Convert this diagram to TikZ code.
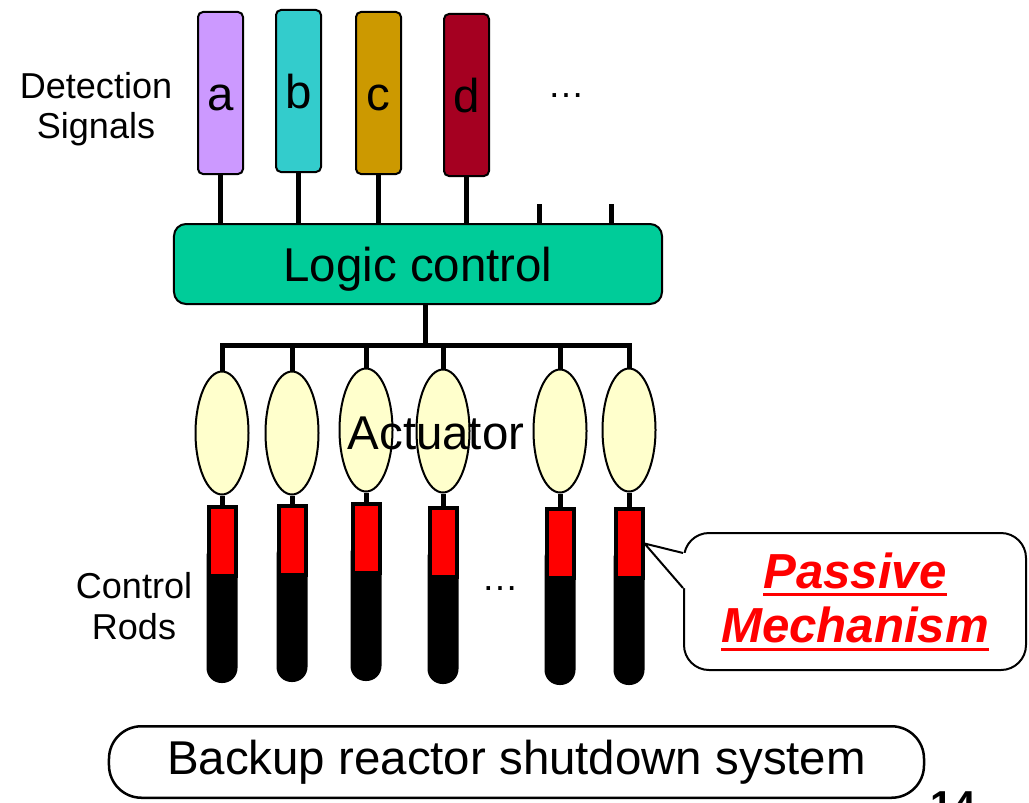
\documentclass[tikz,border=0pt]{standalone}
\usepackage{fontspec}
\setmainfont{Liberation Sans}
\usepackage{tikz}
\usetikzlibrary{positioning, shapes.geometric}
\definecolor{siga}{HTML}{CC99FF}
\definecolor{sigb}{HTML}{33CCCC}
\definecolor{sigc}{HTML}{CC9900}
\definecolor{sigd}{HTML}{A50021}
\definecolor{logicgreen}{HTML}{00CC99}
\definecolor{actcream}{HTML}{FFFFCC}
\newcommand{\redunder}[1]{\leavevmode\setbox0\hbox{#1}%
  \rlap{\vrule height -0.1em depth 0.16em width \wd0}\box0}

\begin{document}
\begin{tikzpicture}[x=0.2mm, y=-0.2mm,
    sigbox/.style={draw, line width=0.4mm, rounded corners=1mm,
                   minimum width=9mm, minimum height=32.4mm, inner sep=0pt,
                   font=\fontsize{27}{30}\selectfont, text height=19.7pt, text depth=0pt},
    wire/.style={line width=1mm},
    actuator/.style={ellipse, draw, line width=0.4mm, fill=actcream,
                     minimum width=10.6mm, minimum height=24.6mm, inner sep=0pt},
    rodhead/.style={draw, line width=0.8mm, fill=red,
                    minimum width=5.4mm, minimum height=13.8mm, inner sep=0pt},
    sidelabel/.style={align=center, font=\fontsize{20.5}{23}\selectfont}]
  \useasboundingbox (0,0) rectangle (1029,802);

  % detection signals
  \node[sigbox, fill=siga] (sigA) at (220.5,93) {a};
  \node[sigbox, fill=sigb] (sigB) at (298.5,91) {b};
  \node[sigbox, fill=sigc] (sigC) at (378.5,93) {c};
  \node[sigbox, fill=sigd] (sigD) at (466.5,95) {d};
  \node[font=\fontsize{21}{24}\selectfont] (sigdots) at (566,96) {\dots};
  \node[sidelabel] (detlabel) at (96,109) {Detection\\Signals};

  % logic control
  \node[draw, line width=0.4mm, fill=logicgreen, rounded corners=2.4mm,
        minimum width=97.6mm, minimum height=16mm, text depth=0pt,
        font=\fontsize{27}{30}\selectfont] (logic) at (418,264) {Logic control};
  \foreach \s in {sigA,sigB,sigC,sigD}
    \draw[wire] (\s.south) -- (\s.south |- logic.north);
  \coordinate (stubE) at (539,204);
  \coordinate (stubF) at (611,204);
  \foreach \s in {stubE,stubF}
    \draw[wire] (\s) -- (\s |- logic.north);

  % actuators and control rods
  \coordinate (bus) at (425,345);
  \draw[wire] (bus |- logic.south) -- (bus);
  \foreach \i/\x/\ey/\ry/\rb in {1/222/433/541.5/683, 2/292/433/540/682,
      3/366/430/538.5/681, 4/443/431/542.5/684, 5/560/431/543/685, 6/629/430/543.5/685} {
    \node[actuator] (act\i) at (\x,\ey) {};
    \draw[wire] (act\i.north) |- (bus);
    \fill[rounded corners=3mm] (\x-15.5,\ry) rectangle (\x+15.5,\rb);
    \node[rodhead] (rb\i) at (\x,\ry) {};
    \draw[wire] (act\i) -- (rb\i);
  }
  \node[font=\fontsize{27}{30}\selectfont] (actlabel) at (436,433) {Actuator};
  \node[font=\fontsize{21}{24}\selectfont] (roddots) at (500,589) {\dots};
  \node[sidelabel] (rodlabel) at (134,606) {Control\\Rods};

  % callout
  \node[draw, line width=0.4mm, fill=white, rounded corners=5mm,
        minimum width=68.4mm, minimum height=27.4mm, align=center, text=red,
        font=\fontsize{28}{31}\selectfont\bfseries\itshape] (note) at (855,601.5)
        {\redunder{Passive}\\\redunder{Mechanism}};
  \coordinate (pA) at (683,553);
  \coordinate (pB) at (683,588);
  \fill[white] (pA) -- (rb6.east) -- (pB) -- ([xshift=1mm]pB) -- ([xshift=1mm]pA) -- cycle;
  \draw[line width=0.4mm] (pA) -- (rb6.east) -- (pB);

  % title
  \node[draw, line width=0.5mm, rounded corners=6.5mm,
        minimum width=163mm, minimum height=14.3mm,
        font=\fontsize{27}{30}\selectfont] (title) at (516.5,762) {Backup reactor shutdown system};
  \node[anchor=base, font=\fontsize{23}{26}\selectfont\bfseries] (pagenum) at (953,819) {14};
\end{tikzpicture}
\end{document}
